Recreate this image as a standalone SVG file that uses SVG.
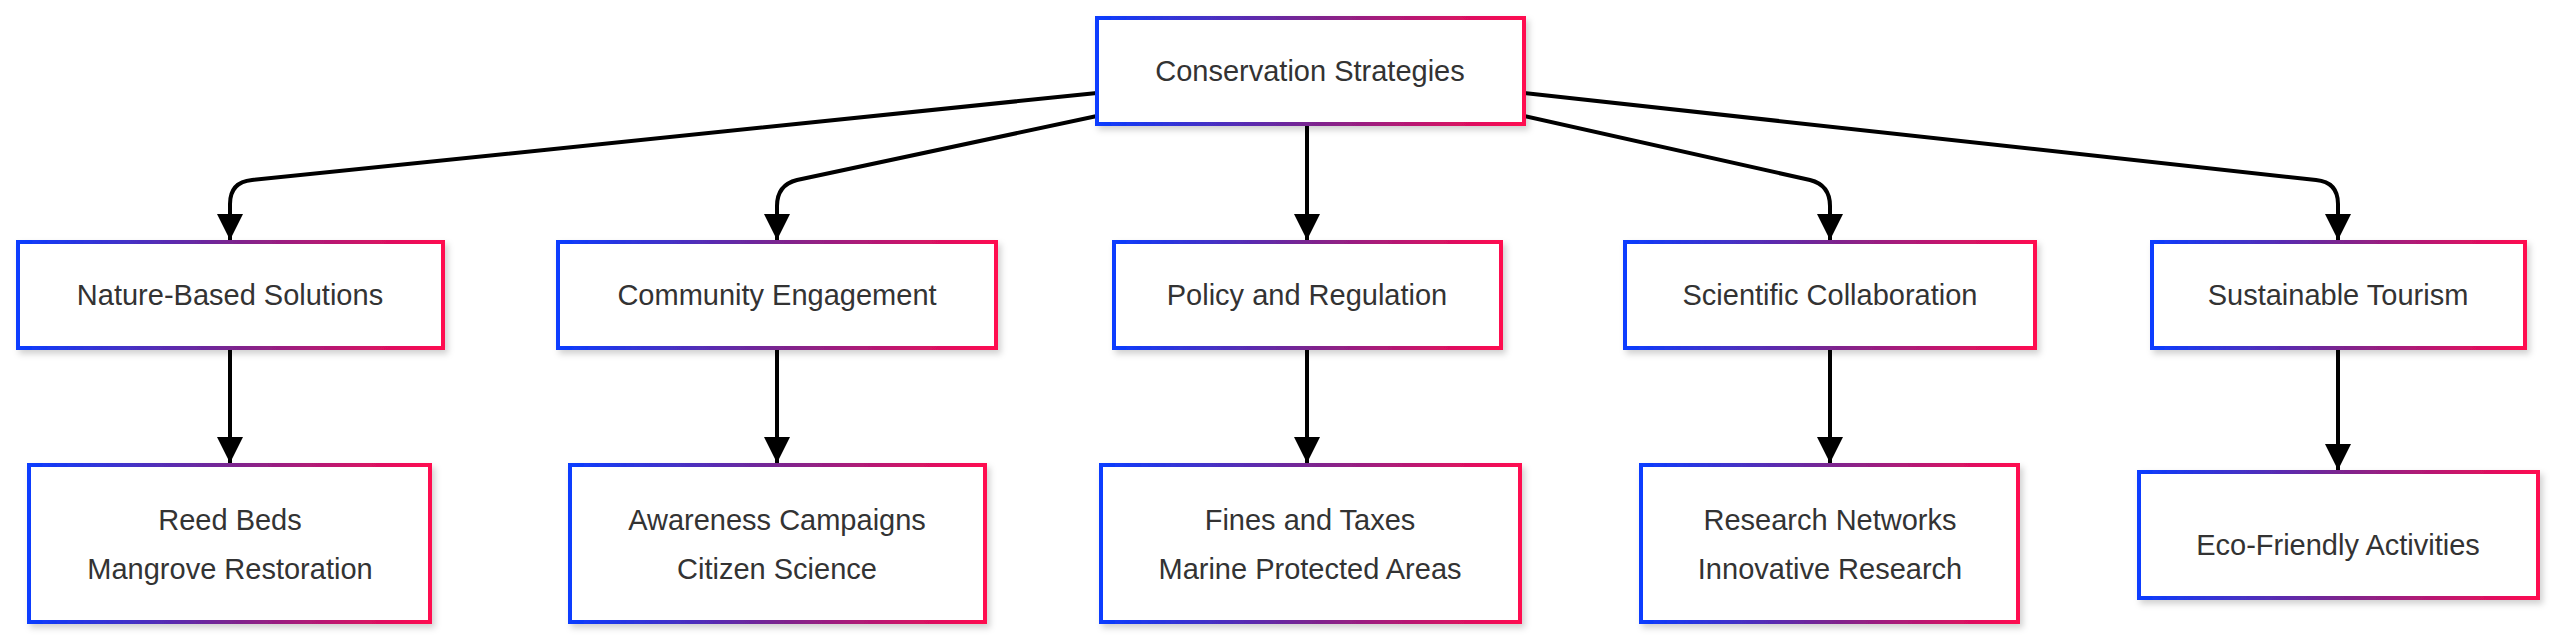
<svg xmlns="http://www.w3.org/2000/svg" width="2560" height="641" viewBox="0 0 2560 641">
<defs>
<linearGradient id="g" x1="0" y1="0" x2="1" y2="0"><stop offset="0" stop-color="#0a3cff"/><stop offset="0.5" stop-color="#7a2590"/><stop offset="1" stop-color="#ff0a50"/></linearGradient>
<filter id="sh" x="-5%" y="-10%" width="110%" height="130%"><feDropShadow dx="3" dy="4" stdDeviation="3" flood-color="#000" flood-opacity="0.18"/></filter>
<marker id="ah" markerUnits="userSpaceOnUse" markerWidth="26" markerHeight="28" refX="13" refY="26" orient="auto-start-reverse" viewBox="0 0 26 28"><path d="M0,0 L26,0 L13,26 Z" fill="#000" transform="rotate(-90 13 13) translate(0,0)"/></marker>
<marker id="a" markerUnits="userSpaceOnUse" markerWidth="26" markerHeight="26" refX="26" refY="13" orient="auto" viewBox="0 0 26 26"><path d="M0,0 L26,13 L0,26 Z" fill="#000"/></marker>
</defs>
<style>
.n rect{fill:#fff;stroke:url(#g);stroke-width:4;filter:url(#sh)}
.n text{font-family:"Liberation Sans",Arial,sans-serif;font-size:29px;fill:#333;text-anchor:middle}
.e path{fill:none;stroke:#000;stroke-width:4;marker-end:url(#a)}
</style>
<g class="e">
<path d="M1097,93 L252,180 Q230,182 230,204 L230,240"/>
<path d="M1097,116 L797,180 Q777,185 777,206 L777,240"/>
<path d="M1307,124 L1307,240"/>
<path d="M1524,116 L1810,180 Q1830,185 1830,206 L1830,240"/>
<path d="M1524,93 L2316,180 Q2338,182 2338,204 L2338,240"/>
<path d="M230,348 L230,463"/>
<path d="M777,348 L777,463"/>
<path d="M1307,348 L1307,463"/>
<path d="M1830,348 L1830,463"/>
<path d="M2338,348 L2338,470"/>
</g>
<g id="root" class="n"><rect x="1097" y="18" width="427" height="106"/><text x="1310" y="81">Conservation Strategies</text></g>
<g id="nbs" class="n"><rect x="18" y="242" width="425" height="106"/><text x="230" y="305">Nature-Based Solutions</text></g>
<g id="ce" class="n"><rect x="558" y="242" width="438" height="106"/><text x="777" y="305">Community Engagement</text></g>
<g id="pr" class="n"><rect x="1114" y="242" width="387" height="106"/><text x="1307" y="305">Policy and Regulation</text></g>
<g id="sc" class="n"><rect x="1625" y="242" width="410" height="106"/><text x="1830" y="305">Scientific Collaboration</text></g>
<g id="st" class="n"><rect x="2152" y="242" width="373" height="106"/><text x="2338" y="305">Sustainable Tourism</text></g>
<g id="l1" class="n"><rect x="29" y="465" width="401" height="157"/><text x="230" y="530">Reed Beds</text><text x="230" y="579">Mangrove Restoration</text></g>
<g id="l2" class="n"><rect x="570" y="465" width="415" height="157"/><text x="777" y="530">Awareness Campaigns</text><text x="777" y="579">Citizen Science</text></g>
<g id="l3" class="n"><rect x="1101" y="465" width="419" height="157"/><text x="1310" y="530">Fines and Taxes</text><text x="1310" y="579">Marine Protected Areas</text></g>
<g id="l4" class="n"><rect x="1641" y="465" width="377" height="157"/><text x="1830" y="530">Research Networks</text><text x="1830" y="579">Innovative Research</text></g>
<g id="l5" class="n"><rect x="2139" y="472" width="399" height="126"/><text x="2338" y="555">Eco-Friendly Activities</text></g>
</svg>
